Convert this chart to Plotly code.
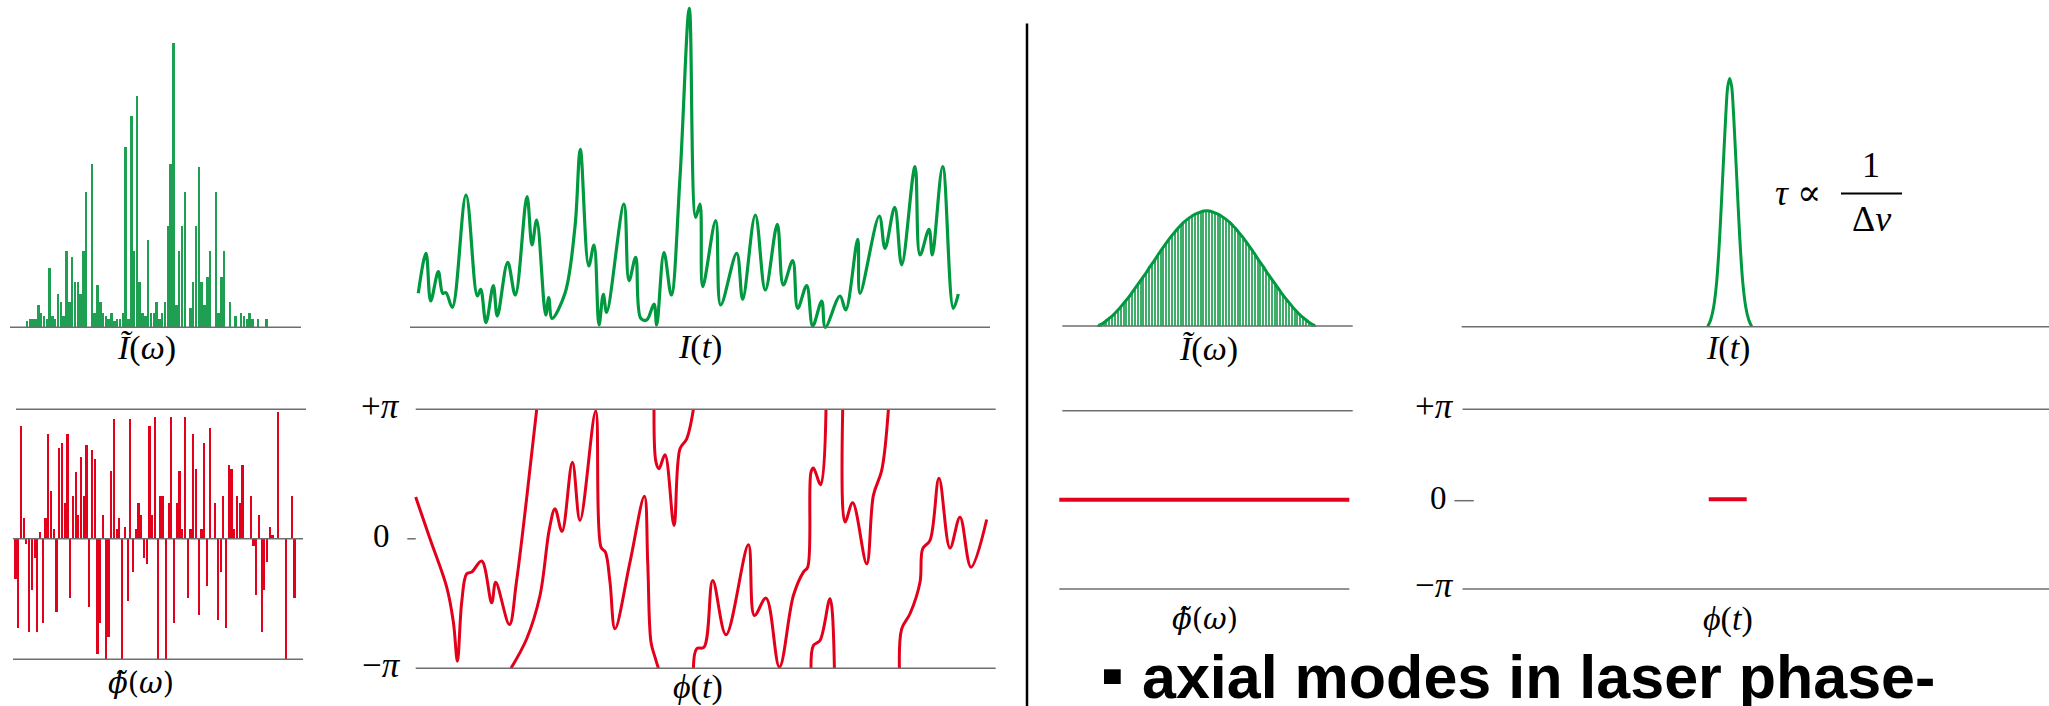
import plotly.graph_objects as go

W, H = 2049, 706
GREEN = "#00993f"
BAR_GREEN = "#1f9f52"
RED = "#e3001b"
GRID = "#6e6e6e"
MATH_FONT = "Liberation Serif, DejaVu Serif, serif"
PHI_FONT = "DejaVu Serif, serif"

# ---------------- data ----------------
# random-phase spectrum: mode intensities (normalised) and mode phases (units of pi)
spec_random = [0.020, 0.028, 0.028, 0.028, 0.079, 0.049, 0.040, 0.028, 0.208, 0.040,
               0.028, 0.117, 0.088, 0.040, 0.266, 0.088, 0.246, 0.157, 0.157, 0.117,
               0.266, 0.474, 0.0, 0.574, 0.049, 0.147, 0.088, 0.049, 0.040, 0.028,
               0.049, 0.020, 0.028, 0.028, 0.049, 0.634, 0.028, 0.742, 0.266, 0.812,
               0.157, 0.049, 0.040, 0.306, 0.049, 0.049, 0.088, 0.028, 0.049, 0.088,
               0.356, 0.574, 1.0, 0.079, 0.266, 0.356, 0.474, 0.0, 0.068, 0.157,
               0.356, 0.565, 0.157, 0.079, 0.177, 0.266, 0.0, 0.474, 0.049, 0.177,
               0.266, 0.0, 0.088, 0.0, 0.040, 0.0, 0.049, 0.040, 0.028, 0.049,
               0.028, 0.0, 0.028, 0.0, 0.0, 0.028]

phase_random = [-0.31, -0.69, 0.87, 0.16, -0.04, -0.72, -0.40, -0.15, -0.72, 0.05,
                -0.65, 0.16, 0.81, 0.37, 0.07, -0.57, 0.70, 0.74, 0.27, 0.81,
                -0.46, 0.33, 0.51, 0.18, 0.63, 0.33, 0.72, -0.53, 0.68, 0.61,
                -0.89, -0.65, 0.18, -0.93, -0.76, 0.52, 0.92, 0.07, 0.16, -0.93,
                0.09, -0.48, 0.92, -0.26, 0.07, 0.27, 0.18, -0.15, -0.20, 0.87,
                0.18, 0.94, -0.93, 0.33, 0.33, -0.93, 0.27, 0.94, -0.65, 0.27,
                0.52, 0.07, 0.94, -0.46, 0.07, 0.81, 0.54, -0.59, 0.07, 0.74,
                -0.37, 0.85, 0.0, 0.27, -0.63, -0.26, 0.33, -0.69, 0.57, 0.54,
                0.07, 0.33, 0.27, 0.57, 0.0, 0.0, 0.33, -0.06, -0.44, 0.18,
                -0.72, -0.40, -0.18, 0.09, 0.03, 0.0, 0.98, 0.0, 0.0, -0.93,
                0.0, 0.33, -0.46]

# random-phase intensity in time (arbitrary units)
It_t = [8.3, 16.0, 20.7, 28.3, 32.7, 36.0, 42.3, 56.0, 67.3, 70.7, 76.0, 83.3, 87.3,
        97.7, 105.3, 117.0, 122.0, 126.7, 135.7, 138.7, 142.0, 155.0, 165.0, 170.3,
        178.7, 184.0, 189.0, 193.3, 196.7, 214.0, 219.0, 225.7, 230.7, 236.7, 244.0,
        246.7, 254.0, 261.3, 270.0, 279.3, 285.7, 290.0, 292.7, 305.7, 310.7, 326.7,
        332.7, 345.3, 355.3, 367.3, 373.3, 382.7, 387.7, 396.7, 402.7, 411.7, 415.3,
        430.0, 435.7, 447.7, 450.0, 469.3, 475.0, 484.7, 491.7, 505.0, 510.0, 519.0,
        522.3, 532.7, 543.3, 548.3]
It_I = [34.0, 74.0, 26.3, 55.7, 34.0, 34.7, 20.0, 132.3, 31.3, 38.0, 4.7, 41.7, 11.3,
        65.0, 32.3, 130.7, 82.3, 107.3, 12.3, 29.7, 9.0, 34.0, 100.7, 178.0,
        61.3, 82.3, 2.3, 33.0, 15.0, 123.3, 46.7, 70.0, 9.0, 7.3, 23.3,
        2.3, 74.7, 32.3, 150.0, 319.0, 110.0, 123.3, 40.7, 106.7, 22.3, 74.0,
        28.0, 112.3, 37.3, 103.0, 42.3, 66.7, 19.0, 41.7, 1.3, 26.3, 0.0,
        31.3, 17.3, 88.0, 34.0, 111.3, 79.0, 120.0, 62.3, 160.7, 72.3, 98.0,
        72.3, 160.7, 19.0, 33.3]

# wrapped temporal phase (units of pi); None separates the wrapped branches
phi_t = [0, 14.3, 31, 37.7, 41.7, 46, 51, 56, 66, 76, 80, 93.7, 100.7, 110.9, 121, None,
         95.3, 111, 124.3, 133.7, 139.3, 146.3, 156.7, 164.3, 180, 185.3, 189.7, 194.3,
         199.3, 214.3, 228.7, 232, 235.3, 239.3, 242.7, None,
         238.3, 240.3, 243.3, 249.3, 258.3, 264.3, 271, 277.7, None,
         277.7, 281, 288.3, 297, 310.3, 332.7, 338.7, 350.3, 363.7, 377.7, 387.7, 392,
         395.3, 397.7, 405, 410.3, None,
         395.3, 397.7, 404.3, 414.3, 418.7, None,
         427, 429.3, 437, 451, 457.7, 466, 472.7, None,
         483.7, 486, 494.3, 504.3, 507, 514.3, 523.3, 534.3, 544.3, 555.3, 571]
phi_v = [0.322, 0, -0.373, -0.644, -0.945, -0.49, -0.270, -0.257, -0.172, -0.494, -0.335,
         -0.662, -0.335, 0.309, 1.0, None,
         -1.0, -0.772, -0.438, 0.077, 0.232, 0.057, 0.592, 0.142, 0.986, -0.064, -0.103,
         -0.335, -0.695, -0.18, 0.329, -0.18, -0.798, -0.914, -1.0, None,
         1.0, 0.592, 0.541, 0.649, 0.103, 0.695, 0.772, 1.0, None,
         -1.0, -0.849, -0.837, -0.322, -0.741, -0.046, -0.592, -0.458, -0.991, -0.438,
         -0.257, -0.219, 0.515, 0.546, 0.417, 1.0, None,
         -1.0, -0.824, -0.785, -0.463, -1.0, None,
         1.0, 0.129, 0.278, -0.193, 0.335, 0.528, 1.0, None,
         -1.0, -0.695, -0.579, -0.335, -0.077, -0.013, 0.468, -0.072, 0.167, -0.219, 0.149]

# mode-locked spectrum (normalised envelope of the 77 modes)
spec_locked = [0.005, 0.015, 0.03, 0.05, 0.07, 0.09, 0.115, 0.14, 0.17, 0.20, 0.23, 0.26,
               0.295, 0.33, 0.365, 0.40, 0.435, 0.47, 0.51, 0.545, 0.58, 0.62, 0.655,
               0.69, 0.725, 0.76, 0.79, 0.82, 0.85, 0.875, 0.90, 0.92, 0.94, 0.955,
               0.97, 0.98, 0.99, 0.998, 1.00, 0.998, 0.99, 0.98, 0.97, 0.955, 0.94,
               0.92, 0.90, 0.875, 0.85, 0.82, 0.79, 0.76, 0.725, 0.69, 0.655, 0.62,
               0.58, 0.545, 0.51, 0.47, 0.435, 0.40, 0.365, 0.33, 0.295, 0.26, 0.23,
               0.20, 0.17, 0.14, 0.115, 0.09, 0.07, 0.05, 0.03, 0.015, 0.005]
phase_locked = [0.0, 0.0]          # flat spectral phase across the band

# mode-locked pulse
pulse_t = [246, 249, 252, 255, 258, 261, 264, 266, 268, 270, 272, 275, 278, 281, 284, 287, 290]
pulse_I = [0, 7, 20, 45, 90, 150, 210, 240, 248.3, 240, 210, 150, 90, 45, 20, 7, 0]
pulse_phase_t = [247, 285]
pulse_phase = [0.0, 0.0]

# ---------------- layout helpers ----------------
fig = go.Figure()
axes = {}
shapes = []
annotations = []


def panel(n, x_px, x_dat, y_px, y_dat, ext_x=None, ext_y=None, pad_x=5, pad_y=6):
    """Linear map pixel<->data; the domain covers the mapping points and the extents."""
    sx = (x_dat[1] - x_dat[0]) / (x_px[1] - x_px[0])
    sy = (y_dat[1] - y_dat[0]) / (y_px[1] - y_px[0])

    def fx(p):
        return x_dat[0] + (p - x_px[0]) * sx

    def fy(p):
        return y_dat[0] + (p - y_px[0]) * sy

    xs = list(x_px) + list(ext_x or [])
    ys = list(y_px) + list(ext_y or [])
    L = max(0, min(xs) - pad_x)
    R = min(W, max(xs) + pad_x)
    T = max(0, min(ys) - pad_y)
    B = min(H, max(ys) + pad_y)
    k = "" if n == 1 else str(n)
    axes["xaxis" + k] = dict(domain=[L / W, R / W], range=[fx(L), fx(R)], visible=False,
                             anchor="y" + k, fixedrange=True)
    axes["yaxis" + k] = dict(domain=[1 - B / H, 1 - T / H], range=[fy(B), fy(T)], visible=False,
                             anchor="x" + k, fixedrange=True)
    return fx, fy


def hline(n, x0, x1, y, color=GRID, width=1.5):
    k = "" if n == 1 else str(n)
    shapes.append(dict(type="line", xref="x" + k, yref="y" + k, x0=x0, x1=x1, y0=y, y1=y,
                       line=dict(color=color, width=width)))


def label(text, xp, yp, size=34, family=MATH_FONT, xanchor="center", color="black"):
    annotations.append(dict(text=text, x=xp / W, y=1 - (yp - 3) / H, xref="paper", yref="paper",
                            xanchor=xanchor, yanchor="middle", showarrow=False,
                            font=dict(family=family, size=size, color=color)))


# Panel 1: random spectrum
fx1, fy1 = panel(1, (27.3, 266.7), (0, len(spec_random) - 1), (327.3, 43.3), (0, 1),
                 ext_x=(10, 301))
fig.add_trace(go.Bar(x=list(range(len(spec_random))), y=spec_random, width=0.7,
                     marker=dict(color=BAR_GREEN, line_width=0), xaxis="x", yaxis="y"))
hline(1, fx1(10), fx1(301), 0)

# Panel 2: random intensity I(t)
fx2, fy2 = panel(2, (410, 990), (0, 580), (327.3, 8.3), (0, 319))
hline(2, fx2(410), fx2(990), 0)
fig.add_trace(go.Scatter(x=It_t, y=It_I, mode="lines", xaxis="x2", yaxis="y2",
                         line=dict(color=GREEN, width=3.2, shape="spline", smoothing=1.0)))

# Panel 3: random spectral phase (0 at 538.7 px, +pi at 409.3 px)
fx3, fy3 = panel(3, (15.7, 294.7), (0, len(phase_random) - 1), (538.7, 409.3), (0, 1),
                 ext_x=(13, 306), ext_y=(659.3,))
hline(3, fx3(16), fx3(306), 1)
hline(3, fx3(13), fx3(303), 0)
hline(3, fx3(13), fx3(303), fy3(659.3))
fig.add_trace(go.Bar(x=list(range(len(phase_random))), y=phase_random, width=0.62,
                     marker=dict(color=RED, line_width=0), xaxis="x3", yaxis="y3"))

# Panel 4: random temporal phase
fx4, fy4 = panel(4, (415.7, 995.7), (0, 580), (668.3, 409.3), (-1, 1), pad_y=2)
hline(4, 0, 580, 1)
hline(4, 0, 580, -1)
fig.add_trace(go.Scatter(x=phi_t, y=phi_v, mode="lines", xaxis="x4", yaxis="y4", connectgaps=False,
                         line=dict(color=RED, width=3, shape="spline", smoothing=1.0)))
shapes.append(dict(type="line", xref="paper", yref="paper", x0=407.3 / W, x1=415.7 / W,
                   y0=1 - 538.8 / H, y1=1 - 538.8 / H, line=dict(color=GRID, width=1.5)))

# Panel 5: mode-locked spectrum
fx5, fy5 = panel(5, (1098.3, 1315), (0, len(spec_locked) - 1), (326, 210.7), (0, 1),
                 ext_x=(1059.3, 1352.7))
fig.add_trace(go.Bar(x=list(range(len(spec_locked))), y=spec_locked, width=0.45,
                     marker=dict(color=BAR_GREEN, line_width=0), opacity=0.85,
                     xaxis="x5", yaxis="y5"))
hline(5, fx5(1062.3), fx5(1352.7), 0)
fig.add_trace(go.Scatter(x=list(range(len(spec_locked))), y=spec_locked, mode="lines",
                         xaxis="x5", yaxis="y5",
                         line=dict(color=GREEN, width=3, shape="spline")))

# Panel 6: mode-locked pulse
fx6, fy6 = panel(6, (1461.7, 2049), (0, 587.3), (326.7, 78.3), (0, 248.4))
hline(6, fx6(1461.7), fx6(2049), 0)
fig.add_trace(go.Scatter(x=pulse_t, y=pulse_I, mode="lines", xaxis="x6", yaxis="y6",
                         line=dict(color=GREEN, width=3, shape="spline", smoothing=0.8)))

# Panel 7: flat spectral phase
fx7, fy7 = panel(7, (1098.3, 1315), (0, len(spec_locked) - 1), (589, 410.7), (-1, 1),
                 ext_x=(1059.3, 1352.7))
hline(7, fx7(1062.3), fx7(1352.7), 1)
hline(7, fx7(1059.3), fx7(1349.3), -1)
fig.add_trace(go.Scatter(x=[fx7(1059.3), fx7(1349.3)], y=phase_locked, mode="lines",
                         xaxis="x7", yaxis="y7", line=dict(color=RED, width=4)))

# Panel 8: pulse temporal phase
fx8, fy8 = panel(8, (1461.7, 2049), (0, 587.3), (589, 409.3), (-1, 1))
hline(8, fx8(1462.5), fx8(2049), 1)
hline(8, fx8(1462.5), fx8(2049), -1)
shapes.append(dict(type="line", xref="paper", yref="paper", x0=1454.4 / W, x1=1473.8 / W,
                   y0=1 - 500.7 / H, y1=1 - 500.7 / H, line=dict(color=GRID, width=1.5)))
fig.add_trace(go.Scatter(x=pulse_phase_t, y=pulse_phase, mode="lines", xaxis="x8", yaxis="y8",
                         line=dict(color=RED, width=4)))

# divider
shapes.append(dict(type="line", xref="paper", yref="paper", x0=1027 / W, x1=1027 / W,
                   y0=0, y1=1 - 23.5 / H, line=dict(color="black", width=2.5)))
# bullet square
shapes.append(dict(type="rect", xref="paper", yref="paper", x0=1104 / W, x1=1120.7 / W,
                   y0=1 - 684 / H, y1=1 - 669.3 / H, fillcolor="black", line=dict(width=0)))
# fraction bar
shapes.append(dict(type="line", xref="paper", yref="paper", x0=1841 / W, x1=1902 / W,
                   y0=1 - 193.5 / H, y1=1 - 193.5 / H, line=dict(color="black", width=1.8)))

# ---------------- labels ----------------
label("<i>Ĩ</i>(<i>ω</i>)", 146, 351)
label("<i>I</i>(<i>t</i>)", 700, 350)
label("<i>ϕ̃</i>(<i>ω</i>)", 141, 686, 29, PHI_FONT)
label("<i>ϕ</i>(<i>t</i>)", 698, 690)
label("+<i>π</i>", 380, 409.3, 35)
label("0", 381, 538.8, 33)
label("−<i>π</i>", 381.7, 668.3, 35)

label("<i>Ĩ</i>(<i>ω</i>)", 1208, 352)
label("<i>I</i>(<i>t</i>)", 1728, 351)
label("<i>ϕ̃</i>(<i>ω</i>)", 1205, 622, 29, PHI_FONT)
label("<i>ϕ</i>(<i>t</i>)", 1728, 622)
label("+<i>π</i>", 1434, 409.3, 35)
label("0", 1438, 500.7, 33)
label("−<i>π</i>", 1434, 588, 35)

label("<i>τ</i> ∝", 1798, 196, 36)
label("1", 1871, 168, 36)
label("Δ<i>ν</i>", 1871, 222, 36)

annotations.append(dict(text="<b>axial modes in laser phase-</b>", x=1140 / W, y=1 - 677 / H,
                        xref="paper", yref="paper", xanchor="left", yanchor="middle", showarrow=False,
                        font=dict(family="Liberation Sans, Arial, sans-serif", size=61, color="black")))

fig.update_layout(width=W, height=H, margin=dict(l=0, r=0, t=0, b=0),
                  paper_bgcolor="white", plot_bgcolor="rgba(0,0,0,0)",
                  showlegend=False, bargap=0, shapes=shapes, annotations=annotations, **axes)

fig.write_html("out.html")
